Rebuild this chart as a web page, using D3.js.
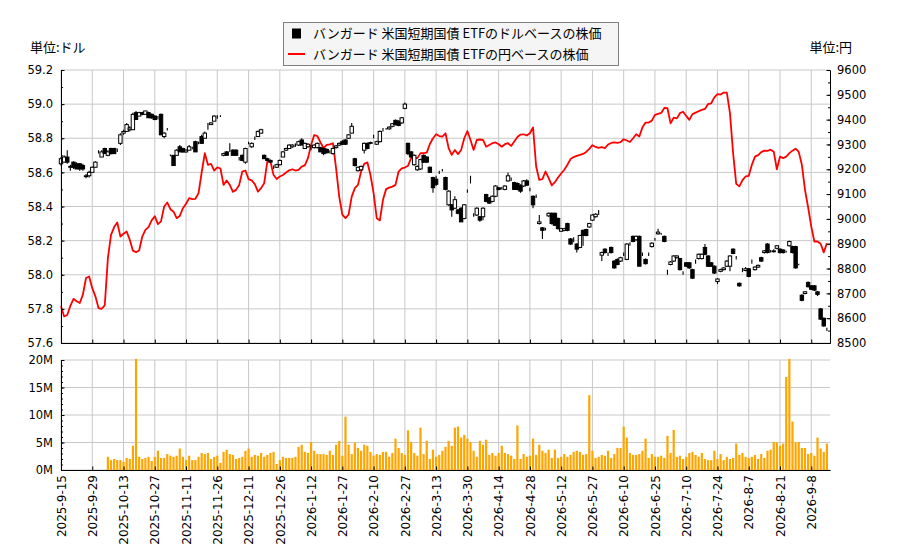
<!DOCTYPE html>
<html>
<head>
<meta charset="utf-8">
<script src="https://cdn.jsdelivr.net/npm/d3@7"></script>
<style>
  body { margin: 0; background: #fff; }
  text { font-family: "DejaVu Sans", sans-serif; }
  .jp { font-family: "Noto Sans CJK JP", "DejaVu Sans", sans-serif; }
</style>
</head>
<body>
<svg id="chart" width="900" height="550"></svg>
<script>
// tick labels, one per 10 trading days
const dateLabels = ['2025-9-15', '2025-9-29', '2025-10-13', '2025-10-27', '2025-11-11', '2025-11-26',
  '2025-12-11', '2025-12-26', '2026-1-12', '2026-1-27', '2026-2-10', '2026-2-27', '2026-3-13',
  '2026-3-30', '2026-4-14', '2026-4-28', '2026-5-12', '2026-5-27', '2026-6-10', '2026-6-25',
  '2026-7-10', '2026-7-24', '2026-8-7', '2026-8-21', '2026-9-8'];

// dollar price (candles)
const usdOpen = [
  58.65, 58.66, 58.69, 58.63, 58.66, 58.65, 58.65, 58.64, 58.575, 58.58,
  58.60, 58.63, 58.72, 58.69, 58.74, 58.70, 58.74, 58.74, 58.73, 58.77,
  58.83, 58.84, 58.85, 58.85, 58.95, 58.93, 58.95, 58.94, 58.95, 58.94,
  58.93, 58.92, 58.94, 58.81, 58.85, 58.70, 58.70, 58.70, 58.75, 58.74,
  58.72, 58.73, 58.74, 58.78, 58.77, 58.81, 58.80, 58.87, 58.88, 58.90,
  58.93, 58.93, 58.70, 58.72, 58.72, 58.73, 58.73, 58.68, 58.70, 58.66,
  58.77, 58.75, 58.80, 58.81, 58.83, 58.70, 58.68, 58.67, 58.63, 58.63,
  58.645, 58.69, 58.73, 58.74, 58.75, 58.76, 58.76, 58.79, 58.74, 58.75,
  58.74, 58.745, 58.745, 58.745, 58.74, 58.735, 58.72, 58.71, 58.745, 58.76,
  58.78, 58.79, 58.80, 58.83, 58.68, 58.61, 58.615, 58.73, 58.77, 58.77,
  58.81, 58.765, 58.78, 58.85, 58.855, 58.855, 58.87, 58.905, 58.90, 58.89,
  58.975, 58.77, 58.72, 58.645, 58.615, 58.62, 58.70, 58.69, 58.63, 58.57,
  58.56, 58.60, 58.615, 58.57, 58.41, 58.41, 58.39, 58.38, 58.39, 58.33,
  58.49, 58.55, 58.34, 58.35, 58.34, 58.34, 58.47, 58.45, 58.43, 58.46,
  58.51, 58.51, 58.50, 58.55, 58.56, 58.54, 58.535, 58.525, 58.52, 58.55,
  58.50, 58.46, 58.46, 58.30, 58.275, 58.27, 58.345, 58.36, 58.36, 58.33,
  58.255, 58.26, 58.30, 58.21, 58.20, 58.18, 58.16, 58.26, 58.265, 58.28,
  58.32, 58.34, 58.36, 58.115, 58.15, 58.12, 58.16, 58.08, 58.09, 58.08,
  58.12, 58.09, 58.18, 58.225, 58.205, 58.225, 58.12, 58.09, 58.12, 58.165,
  58.21, 58.24, 58.24, 58.225, 58.02, 58.06, 58.08, 58.10, 58.095, 58.01,
  58.07, 58.07, 58.03, 58.07, 58.095, 58.095, 58.16, 58.11, 58.07, 58.05,
  57.96, 58.02, 58.03, 58.05, 58.05, 58.15, 58.10, 57.95, 58.02, 58.025,
  58.035, 58.07, 58.03, 58.045, 58.10, 58.13, 58.18, 58.14, 58.135, 58.155,
  58.15, 58.145, 58.135, 58.17, 58.165, 58.165, 58.06, 57.88, 57.89, 57.955,
  57.935, 57.935, 57.90, 57.80, 57.745, 57.685];
const usdClose = [
  58.68, 58.69, 58.66, 58.635, 58.63, 58.62, 58.62, 58.62, 58.58, 58.60,
  58.63, 58.66, 58.72, 58.72, 58.71, 58.72, 58.71, 58.71, 58.73, 58.82,
  58.84, 58.88, 58.86, 58.94, 58.91, 58.95, 58.94, 58.96, 58.92, 58.92,
  58.91, 58.92, 58.82, 58.83, 58.85, 58.70, 58.64, 58.73, 58.72, 58.72,
  58.73, 58.75, 58.74, 58.72, 58.77, 58.77, 58.83, 58.87, 58.89, 58.93,
  58.93, 58.93, 58.71, 58.70, 58.72, 58.70, 58.70, 58.68, 58.67, 58.74,
  58.77, 58.77, 58.80, 58.84, 58.85, 58.68, 58.67, 58.66, 58.63, 58.645,
  58.67, 58.72, 58.74, 58.76, 58.76, 58.76, 58.78, 58.76, 58.77, 58.765,
  58.74, 58.76, 58.77, 58.72, 58.71, 58.715, 58.72, 58.74, 58.755, 58.77,
  58.765, 58.765, 58.82, 58.87, 58.64, 58.63, 58.635, 58.77, 58.74, 58.775,
  58.81, 58.78, 58.84, 58.85, 58.855, 58.865, 58.885, 58.88, 58.875, 58.92,
  59.00, 58.71, 58.69, 58.70, 58.635, 58.675, 58.66, 58.66, 58.60, 58.51,
  58.53, 58.60, 58.615, 58.50, 58.49, 58.38, 58.44, 58.36, 58.31, 58.41,
  58.49, 58.55, 58.34, 58.39, 58.32, 58.39, 58.43, 58.42, 58.46, 58.52,
  58.50, 58.51, 58.52, 58.58, 58.56, 58.50, 58.50, 58.49, 58.55, 58.525,
  58.50, 58.41, 58.46, 58.31, 58.26, 58.27, 58.36, 58.30, 58.29, 58.27,
  58.27, 58.27, 58.26, 58.18, 58.20, 58.15, 58.23, 58.23, 58.23, 58.30,
  58.35, 58.355, 58.36, 58.13, 58.13, 58.12, 58.13, 58.04, 58.06, 58.10,
  58.12, 58.18, 58.18, 58.195, 58.225, 58.05, 58.12, 58.065, 58.12, 58.185,
  58.21, 58.25, 58.24, 58.195, 58.02, 58.075, 58.11, 58.11, 58.03, 58.01,
  58.05, 58.04, 57.98, 58.07, 58.12, 58.12, 58.12, 58.05, 58.05, 58.01,
  57.975, 58.03, 58.04, 58.08, 58.11, 58.125, 58.10, 57.935, 58.02, 58.035,
  57.99, 58.07, 58.045, 58.055, 58.08, 58.14, 58.13, 58.14, 58.14, 58.17,
  58.13, 58.13, 58.135, 58.195, 58.13, 58.04, 58.06, 57.85, 57.90, 57.93,
  57.915, 57.91, 57.885, 57.74, 57.70, 57.685];
const usdHigh = [
  58.69, 58.70, 58.73, 58.645, 58.665, 58.66, 58.655, 58.65, 58.59, 58.61,
  58.635, 58.665, 58.73, 58.73, 58.745, 58.73, 58.745, 58.745, 58.74, 58.83,
  58.85, 58.89, 58.87, 58.95, 58.96, 58.955, 58.955, 58.96, 58.955, 58.945,
  58.935, 58.93, 58.945, 58.835, 58.86, 58.705, 58.70, 58.735, 58.76, 58.745,
  58.735, 58.76, 58.75, 58.785, 58.78, 58.82, 58.84, 58.89, 58.895, 58.935,
  58.935, 58.935, 58.715, 58.725, 58.77, 58.735, 58.735, 58.69, 58.705, 58.745,
  58.78, 58.775, 58.81, 58.845, 58.855, 58.705, 58.685, 58.675, 58.64, 58.65,
  58.675, 58.725, 58.745, 58.765, 58.765, 58.77, 58.785, 58.80, 58.775, 58.77,
  58.76, 58.765, 58.775, 58.75, 58.745, 58.74, 58.73, 58.745, 58.76, 58.775,
  58.79, 58.795, 58.825, 58.89, 58.685, 58.635, 58.64, 58.775, 58.775, 58.78,
  58.82, 58.785, 58.845, 58.86, 58.86, 58.87, 58.89, 58.91, 58.905, 58.925,
  59.01, 58.775, 58.725, 58.705, 58.64, 58.68, 58.705, 58.695, 58.635, 58.575,
  58.58, 58.61, 58.62, 58.575, 58.495, 58.415, 58.46, 58.385, 58.395, 58.415,
  58.50, 58.58, 58.36, 58.395, 58.345, 58.395, 58.475, 58.455, 58.465, 58.525,
  58.515, 58.515, 58.525, 58.60, 58.57, 58.545, 58.54, 58.53, 58.555, 58.56,
  58.51, 58.465, 58.47, 58.35, 58.28, 58.275, 58.365, 58.365, 58.365, 58.335,
  58.275, 58.275, 58.305, 58.215, 58.22, 58.185, 58.235, 58.265, 58.27, 58.305,
  58.355, 58.36, 58.38, 58.135, 58.155, 58.13, 58.165, 58.085, 58.095, 58.105,
  58.13, 58.185, 58.19, 58.23, 58.23, 58.23, 58.13, 58.095, 58.13, 58.19,
  58.215, 58.27, 58.245, 58.23, 58.03, 58.08, 58.115, 58.115, 58.10, 58.02,
  58.075, 58.075, 58.035, 58.09, 58.125, 58.125, 58.18, 58.115, 58.075, 58.055,
  57.98, 58.035, 58.045, 58.085, 58.115, 58.155, 58.11, 57.955, 58.04, 58.045,
  58.04, 58.09, 58.05, 58.06, 58.105, 58.145, 58.185, 58.145, 58.15, 58.175,
  58.155, 58.15, 58.14, 58.20, 58.17, 58.17, 58.065, 57.885, 57.905, 57.96,
  57.94, 57.94, 57.905, 57.805, 57.75, 57.69];
const usdLow = [
  58.64, 58.66, 58.65, 58.61, 58.62, 58.62, 58.61, 58.61, 58.565, 58.57,
  58.60, 58.63, 58.71, 58.69, 58.71, 58.695, 58.705, 58.71, 58.72, 58.76,
  58.82, 58.84, 58.84, 58.85, 58.91, 58.93, 58.935, 58.94, 58.92, 58.915,
  58.905, 58.91, 58.82, 58.80, 58.845, 58.695, 58.64, 58.70, 58.72, 58.715,
  58.715, 58.73, 58.735, 58.72, 58.765, 58.77, 58.80, 58.85, 58.88, 58.90,
  58.915, 58.925, 58.695, 58.70, 58.72, 58.70, 58.70, 58.67, 58.665, 58.65,
  58.765, 58.745, 58.79, 58.81, 58.83, 58.68, 58.665, 58.655, 58.62, 58.625,
  58.64, 58.69, 58.725, 58.74, 58.745, 58.75, 58.755, 58.76, 58.74, 58.745,
  58.73, 58.74, 58.74, 58.72, 58.70, 58.71, 58.71, 58.705, 58.74, 58.755,
  58.76, 58.76, 58.795, 58.83, 58.635, 58.605, 58.61, 58.71, 58.735, 58.765,
  58.80, 58.76, 58.775, 58.84, 58.85, 58.85, 58.865, 58.875, 58.87, 58.885,
  58.97, 58.70, 58.685, 58.64, 58.61, 58.615, 58.655, 58.655, 58.60, 58.48,
  58.52, 58.59, 58.605, 58.495, 58.405, 58.34, 58.385, 58.355, 58.31, 58.325,
  58.48, 58.535, 58.34, 58.345, 58.31, 58.32, 58.425, 58.415, 58.425, 58.455,
  58.495, 58.50, 58.495, 58.545, 58.55, 58.50, 58.495, 58.48, 58.515, 58.52,
  58.49, 58.39, 58.45, 58.295, 58.21, 58.26, 58.34, 58.295, 58.285, 58.265,
  58.25, 58.255, 58.255, 58.175, 58.19, 58.13, 58.155, 58.17, 58.225, 58.275,
  58.315, 58.335, 58.35, 58.08, 58.125, 58.11, 58.125, 58.035, 58.055, 58.075,
  58.11, 58.085, 58.17, 58.19, 58.20, 58.05, 58.11, 58.06, 58.11, 58.16,
  58.20, 58.235, 58.235, 58.19, 58.00, 58.055, 58.075, 58.095, 58.025, 58.00,
  58.045, 58.035, 57.975, 58.065, 58.09, 58.09, 58.115, 58.045, 58.045, 58.005,
  57.945, 58.015, 58.025, 58.045, 58.02, 58.12, 58.09, 57.93, 58.015, 58.02,
  57.985, 58.065, 58.025, 58.04, 58.075, 58.125, 58.125, 58.13, 58.13, 58.15,
  58.125, 58.125, 58.13, 58.165, 58.125, 58.035, 58.055, 57.845, 57.885, 57.925,
  57.91, 57.905, 57.875, 57.735, 57.695, 57.67];

// yen price (line)
const yenPrice = [
  8648, 8607, 8613, 8650, 8678, 8668, 8661, 8695, 8762, 8768,
  8721, 8688, 8641, 8638, 8652, 8842, 8936, 8967, 8986, 8929,
  8940, 8949, 8916, 8872, 8866, 8873, 8929, 8956, 8967, 8994,
  9011, 8979, 8990, 9050, 9066, 9039, 9029, 9003, 9012, 9043,
  9061, 9084, 9080, 9081, 9104, 9187, 9265, 9218, 9222, 9195,
  9208, 9203, 9137, 9155, 9137, 9109, 9117, 9137, 9191, 9195,
  9160, 9155, 9140, 9110, 9124, 9144, 9231, 9231, 9177, 9161,
  9171, 9177, 9187, 9196, 9200, 9195, 9198, 9211, 9216, 9245,
  9298, 9338, 9334, 9308, 9285, 9298, 9300, 9305, 9204, 9090,
  9017, 9003, 9017, 9090, 9124, 9137, 9191, 9222, 9228, 9177,
  9104, 9003, 8994, 9077, 9120, 9126, 9130, 9137, 9191, 9204,
  9207, 9214, 9245, 9245, 9245, 9265, 9265, 9267, 9302, 9325,
  9341, 9334, 9332, 9345, 9285, 9258, 9278, 9261, 9278, 9325,
  9354, 9318, 9278, 9318, 9320, 9318, 9291, 9298, 9305, 9308,
  9301, 9291, 9301, 9305, 9294, 9312, 9330, 9340, 9341, 9336,
  9345, 9369, 9211, 9157, 9160, 9191, 9164, 9135, 9148, 9167,
  9183, 9198, 9218, 9241, 9249, 9254, 9258, 9262, 9270, 9282,
  9297, 9290, 9286, 9289, 9285, 9300, 9306, 9308, 9306, 9309,
  9321, 9316, 9310, 9325, 9341, 9332, 9369, 9388, 9388, 9396,
  9419, 9423, 9427, 9447, 9446, 9385, 9408, 9405, 9426, 9432,
  9415, 9399, 9422, 9428, 9434, 9439, 9443, 9463, 9466, 9490,
  9503, 9501, 9509, 9509, 9426, 9265, 9141, 9131, 9156, 9171,
  9173, 9218, 9251, 9257, 9269, 9275, 9274, 9279, 9271, 9200,
  9251, 9245, 9251, 9265, 9275, 9283, 9270, 9218, 9117, 9047,
  8970, 8909, 8909, 8900, 8865, 8902];

// volume, millions of shares
const volumeM = [
  null, null, null, null, null, null, null, null, null, null,
  null, null, null, null, null, 2.4, 1.8, 2.0, 1.8, 1.8,
  1.5, 2.2, 2.0, 4.4, 20.2, 2.4, 2.0, 2.2, 2.4, 1.65,
  2.4, 3.5, 2.2, 2.2, 2.9, 2.6, 2.4, 2.6, 3.9, 2.4,
  1.8, 2.6, 1.8, 1.8, 2.4, 3.1, 2.9, 3.1, 2.0, 2.4,
  2.6, 1.3, 3.3, 3.7, 2.9, 2.75, 2.0, 2.2, 2.4, 3.5,
  3.9, 2.4, 2.75, 2.6, 3.1, 2.4, 2.75, 3.1, 3.3, 1.1,
  1.8, 2.4, 2.2, 2.2, 2.2, 2.4, 4.2, 4.6, 3.3, 3.1,
  5.1, 3.5, 2.9, 2.9, 2.9, 2.75, 3.5, 2.75, 4.6, 5.3,
  2.6, 9.7, 4.6, 2.9, 5.0, 4.0, 3.5, 4.6, 4.4, 3.3,
  2.6, 2.9, 2.75, 3.3, 3.3, 2.4, 3.1, 5.7, 4.0, 3.1,
  2.75, 7.2, 5.1, 3.1, 2.6, 7.7, 2.9, 5.3, 2.0, 3.7,
  2.4, 2.75, 3.5, 4.2, 5.3, 4.4, 7.7, 7.9, 5.9, 6.4,
  5.7, 5.1, 3.5, 2.4, 5.3, 4.6, 5.5, 2.75, 3.1, 2.6,
  3.1, 4.4, 3.1, 2.9, 2.6, 2.0, 8.1, 2.0, 2.9, 2.4,
  2.6, 5.7, 2.75, 4.6, 3.5, 3.1, 3.7, 2.2, 3.7, 2.2,
  2.4, 2.9, 2.4, 2.75, 3.3, 3.5, 3.3, 2.75, 2.9, 13.6,
  3.5, 2.2, 2.4, 2.75, 2.6, 3.5, 2.2, 2.9, 4.0, 4.0,
  7.9, 5.9, 3.1, 2.75, 2.75, 2.9, 3.5, 5.7, 2.2, 2.9,
  2.4, 2.4, 2.6, 2.2, 6.2, 3.1, 7.3, 2.4, 2.6, 2.0,
  2.4, 3.1, 3.3, 2.75, 2.4, 3.1, 2.0, 1.8, 1.8, 3.5,
  2.0, 2.9, 1.8, 2.4, 2.0, 2.2, 4.8, 2.75, 3.1, 2.4,
  2.2, 2.4, 2.75, 2.0, 2.9, 2.2, 3.5, 3.7, 5.1, 5.0,
  4.4, 4.8, 16.9, 20.2, 8.8, 5.0, 5.1, 4.0, 4.0, 2.9,
  3.1, 2.6, 5.9, 3.9, 3.3, 4.8];

const svg = d3.select('#chart');

const left = 61, right = 830;
const main = { top: 70, bottom: 343 };
const vol = { top: 360, bottom: 470 };
const gridColor = '#c8c8c8';

const x = d3.scaleLinear().domain([0, 246]).range([left, right]);
const yUsd = d3.scaleLinear().domain([57.6, 59.2]).range([main.bottom, main.top]);
const yYen = d3.scaleLinear().domain([8500, 9600]).range([main.bottom, main.top]);
const yVol = d3.scaleLinear().domain([0, 20]).range([vol.bottom, vol.top]);

const tickIdx = dateLabels.map((d, i) => i * 10);
const usdTicks = d3.range(0, 9).map(k => +(57.6 + k * 0.2).toFixed(1));
const usdMinor = d3.range(0, 17).map(k => +(57.6 + k * 0.1).toFixed(1));
const yenTicks = d3.range(8500, 9601, 100);
const yenMinor = d3.range(8500, 9601, 50);
const volTicks = [0, 5, 10, 15, 20];
const volMinor = d3.range(0, 21);

// grid
const grid = svg.append('g').attr('stroke', gridColor).attr('stroke-width', 1);
grid.selectAll('.hm').data(usdTicks).enter().append('line')
  .attr('x1', left).attr('x2', right)
  .attr('y1', d => yUsd(d)).attr('y2', d => yUsd(d));
grid.selectAll('.vm').data(tickIdx).enter().append('line')
  .attr('x1', d => x(d)).attr('x2', d => x(d))
  .attr('y1', main.top).attr('y2', main.bottom);
grid.selectAll('.hv').data(volTicks).enter().append('line')
  .attr('x1', left).attr('x2', right)
  .attr('y1', d => yVol(d)).attr('y2', d => yVol(d));
grid.selectAll('.vv').data(tickIdx).enter().append('line')
  .attr('x1', d => x(d)).attr('x2', d => x(d))
  .attr('y1', vol.top).attr('y2', vol.bottom);

// volume bars
svg.append('g').selectAll('rect')
  .data(volumeM.map((v, i) => ({ v, i })).filter(d => d.v != null))
  .enter().append('rect')
  .attr('x', d => x(d.i) - 1.1)
  .attr('width', 2.2)
  .attr('y', d => yVol(d.v))
  .attr('height', d => vol.bottom - yVol(d.v))
  .attr('fill', '#ffa500');

// yen line
const line = d3.line()
  .x((d, i) => x(i))
  .y(d => yYen(d));
svg.append('path')
  .datum(yenPrice)
  .attr('fill', 'none')
  .attr('stroke', '#ff0000')
  .attr('stroke-width', 1.8)
  .attr('stroke-linejoin', 'round')
  .attr('d', line);

// candles
const candles = usdOpen.map((o, i) => ({
  i, o, c: usdClose[i], h: usdHigh[i], l: usdLow[i]
}));
const cg = svg.append('g');
cg.selectAll('line').data(candles).enter().append('line')
  .attr('x1', d => x(d.i)).attr('x2', d => x(d.i))
  .attr('y1', d => yUsd(d.h)).attr('y2', d => yUsd(d.l))
  .attr('stroke', '#000').attr('stroke-width', 1.1);
cg.selectAll('rect').data(candles).enter().append('rect')
  .attr('x', d => x(d.i) - 1.7)
  .attr('width', 3.4)
  .attr('y', d => yUsd(Math.max(d.o, d.c)))
  .attr('height', d => Math.abs(yUsd(d.o) - yUsd(d.c)))
  .attr('fill', d => d.c < d.o ? '#000' : '#fff')
  .attr('stroke', '#000')
  .attr('stroke-width', 1);

// axes
function styleAxis(g, size) {
  g.selectAll('text').attr('fill', '#000').style('font-size', size);
  g.selectAll('line').attr('stroke', '#000');
  g.select('.domain').attr('stroke', '#000');
}

svg.append('g').attr('transform', `translate(${left},0)`)
  .call(d3.axisLeft(yUsd).tickValues(usdMinor).tickSize(-2).tickSizeOuter(0).tickFormat(''))
  .call(g => styleAxis(g, '11.5px'));
svg.append('g').attr('transform', `translate(${left},0)`)
  .call(d3.axisLeft(yUsd).tickValues(usdTicks).tickSize(-3.5).tickSizeOuter(0).tickPadding(8)
    .tickFormat(d3.format('.1f')))
  .call(g => styleAxis(g, '11.5px'));

svg.append('g').attr('transform', `translate(${right},0)`)
  .call(d3.axisRight(yYen).tickValues(yenMinor).tickSize(-2).tickSizeOuter(0).tickFormat(''))
  .call(g => styleAxis(g, '11.5px'));
svg.append('g').attr('transform', `translate(${right},0)`)
  .call(d3.axisRight(yYen).tickValues(yenTicks).tickSize(-3.5).tickSizeOuter(0).tickPadding(7)
    .tickFormat(d3.format('d')))
  .call(g => styleAxis(g, '11.5px'));

svg.append('g').attr('transform', `translate(0,${main.bottom})`)
  .call(d3.axisBottom(x).tickValues(tickIdx).tickSize(-3.5).tickSizeOuter(0).tickFormat(''))
  .call(g => styleAxis(g, '11.5px'));

svg.append('g').attr('transform', `translate(${left},0)`)
  .call(d3.axisLeft(yVol).tickValues(volMinor).tickSize(-2).tickSizeOuter(0).tickFormat(''))
  .call(g => styleAxis(g, '11.5px'));
svg.append('g').attr('transform', `translate(${left},0)`)
  .call(d3.axisLeft(yVol).tickValues(volTicks).tickSize(-3.5).tickSizeOuter(0).tickPadding(8)
    .tickFormat(d => d + 'M'))
  .call(g => styleAxis(g, '11.5px'));

svg.append('g').attr('transform', `translate(0,${vol.bottom})`)
  .call(d3.axisBottom(x).tickValues(tickIdx).tickSize(-3.5).tickSizeOuter(0)
    .tickFormat((d, i) => dateLabels[i]))
  .call(g => styleAxis(g, '12px'))
  .call(g => g.selectAll('text')
    .attr('transform', 'rotate(-90)')
    .attr('x', -5).attr('y', 0).attr('dy', '0.35em')
    .style('text-anchor', 'end'));

// units
svg.append('text').attr('class', 'jp').attr('x', 30).attr('y', 47).attr('dy', '0.35em')
  .style('font-size', '13px').text('単位:ドル');
svg.append('text').attr('class', 'jp').attr('x', 852).attr('y', 47).attr('dy', '0.35em')
  .style('text-anchor', 'end').style('font-size', '13px').text('単位:円');

// legend
const lg = svg.append('g');
lg.append('rect').attr('x', 283.5).attr('y', 22.5).attr('width', 335).attr('height', 43)
  .attr('fill', '#f5f5f5').attr('stroke', '#7f7f7f');
lg.append('rect').attr('x', 292).attr('y', 28.5).attr('width', 9).attr('height', 10)
  .attr('fill', '#000');
lg.append('line').attr('x1', 288).attr('x2', 305).attr('y1', 54).attr('y2', 54)
  .attr('stroke', '#ff0000').attr('stroke-width', 2);
lg.append('text').attr('class', 'jp').attr('x', 313).attr('y', 33.5).attr('dy', '0.35em')
  .style('font-size', '13px').text('バンガード 米国短期国債 ETFのドルベースの株価');
lg.append('text').attr('class', 'jp').attr('x', 313).attr('y', 54).attr('dy', '0.35em')
  .style('font-size', '13px').text('バンガード 米国短期国債 ETFの円ベースの株価');
</script>
</body>
</html>
